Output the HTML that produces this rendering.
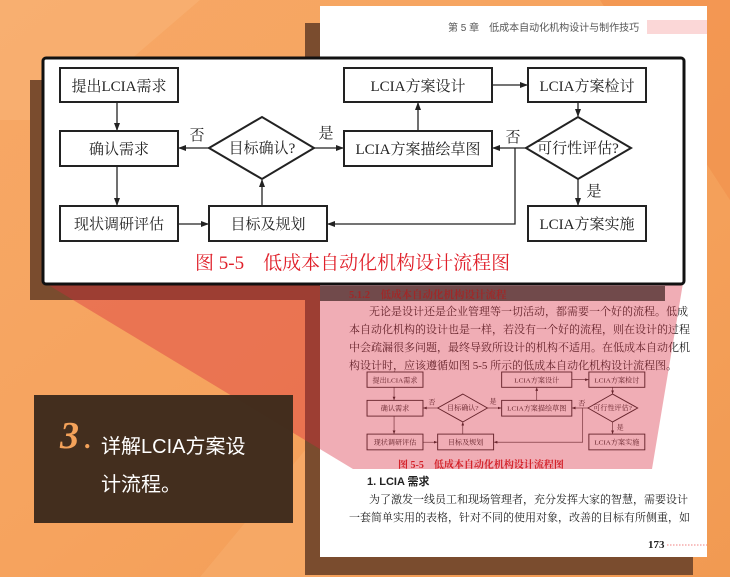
<!DOCTYPE html><html><head><meta charset="utf-8"><style>
html,body{margin:0;padding:0;width:730px;height:577px;overflow:hidden}
text{font-family:"Liberation Serif","Noto Serif CJK SC",serif}
text.s{font-family:"Liberation Sans","Noto Sans CJK SC",sans-serif}
</style></head><body>
<svg width="730" height="577" viewBox="0 0 730 577" xmlns="http://www.w3.org/2000/svg">
<defs>
<linearGradient id="bg" x1="0" y1="0" x2="1" y2="1">
<stop offset="0" stop-color="#f7a866"/><stop offset="0.5" stop-color="#f6a35e"/><stop offset="1" stop-color="#f19a52"/></linearGradient>
<marker id="a" markerWidth="8" markerHeight="6" refX="7" refY="3" orient="auto" markerUnits="userSpaceOnUse"><path d="M0,0 L8,3 L0,6 z" fill="#222"/></marker>
<g id="dg" font-size="15" fill="#222">
<g fill="none" stroke="#222" stroke-width="2">
<rect x="60" y="68" width="118" height="34"/>
<rect x="60" y="131" width="118" height="35"/>
<rect x="60" y="206" width="118" height="35"/>
<rect x="209" y="206" width="118" height="35"/>
<polygon points="209,148 262,117 314,148 262,179"/>
<rect x="344" y="68" width="148" height="34"/>
<rect x="344" y="131" width="148" height="35"/>
<rect x="528" y="68" width="118" height="34"/>
<polygon points="526,148 578,117 631,148 578,179"/>
<rect x="528" y="206" width="118" height="35"/>
</g>
<g stroke="#222" stroke-width="1.3" fill="none" marker-end="url(#a)">
<line x1="117" y1="102" x2="117" y2="130"/>
<line x1="117" y1="166" x2="117" y2="205"/>
<line x1="178" y1="224" x2="208" y2="224"/>
<line x1="262" y1="206" x2="262" y2="180"/>
<line x1="209" y1="148" x2="179" y2="148"/>
<line x1="314" y1="148" x2="343" y2="148"/>
<line x1="418" y1="131" x2="418" y2="103"/>
<line x1="492" y1="85" x2="527" y2="85"/>
<line x1="578" y1="102" x2="578" y2="116"/>
<line x1="526" y1="148" x2="493" y2="148"/>
<line x1="578" y1="179" x2="578" y2="205"/>
<polyline points="515,148 515,224 328,224"/>
</g>
<g text-anchor="middle">
<text x="119" y="91">提出LCIA需求</text>
<text x="119" y="154">确认需求</text>
<text x="119" y="229">现状调研评估</text>
<text x="268" y="229">目标及规划</text>
<text x="262" y="153">目标确认?</text>
<text x="418" y="91">LCIA方案设计</text>
<text x="418" y="154">LCIA方案描绘草图</text>
<text x="587" y="91">LCIA方案检讨</text>
<text x="578" y="153">可行性评估?</text>
<text x="587" y="229">LCIA方案实施</text>
<text x="197" y="140">否</text><text x="326" y="138">是</text>
<text x="513" y="142">否</text><text x="594" y="196">是</text>
</g>
</g>
</defs>
<rect width="730" height="577" fill="url(#bg)"/>
<polygon points="0,0 200,0 60,120 0,120" fill="#f9b57a" opacity="0.5"/>
<polygon points="600,0 730,0 730,200" fill="#f08c48" opacity="0.5"/>
<polygon points="200,577 330,420 330,577" fill="#f8b070" opacity="0.5"/>
<rect x="30" y="80" width="290" height="220" fill="#7a4c2e"/>
<rect x="305" y="23" width="388" height="552" fill="#7a4c2e"/>
<rect x="320" y="6" width="387" height="551" fill="#fff"/>
<text class="s" x="448" y="31" font-size="10" fill="#555">第 5 章　低成本自动化机构设计与制作技巧</text>
<rect x="647" y="20" width="60" height="14" fill="#fbd7d7"/>
<g font-size="11" fill="#222">
<text x="369" y="315">无论是设计还是企业管理等一切活动，都需要一个好的流程。低成</text>
<text x="349" y="333">本自动化机构的设计也是一样，若没有一个好的流程，则在设计的过程</text>
<text x="349" y="351">中会疏漏很多问题，最终导致所设计的机构不适用。在低成本自动化机</text>
<text x="349" y="369">构设计时，应该遵循如图 5-5 所示的低成本自动化机构设计流程图。</text>
</g>
<g transform="translate(338.6,341.4) scale(0.474,0.45)"><use href="#dg"/></g>
<text x="398" y="468" font-size="10" fill="#d02020" font-weight="bold">图 5-5　低成本自动化机构设计流程图</text>
<polygon points="45,283 683,283 652,469 353,469" fill="#d8283c" opacity="0.38"/>
<rect x="320" y="286" width="345" height="15" fill="#5a3838" opacity="0.85"/>
<text x="349" y="298" font-size="10.5" fill="#a02828" font-weight="bold">5.1.2　低成本自动化机构设计流程</text>
<text class="s" x="367" y="485" font-size="11" fill="#222" font-weight="bold">1. LCIA 需求</text>
<g font-size="11" fill="#222">
<text x="369" y="503">为了激发一线员工和现场管理者，充分发挥大家的智慧，需要设计</text>
<text x="349" y="521">一套简单实用的表格，针对不同的使用对象，改善的目标有所侧重，如</text>
</g>
<text x="648" y="548" font-size="11" fill="#222" font-weight="bold">173</text>
<line x1="667" y1="545" x2="707" y2="545" stroke="#f08080" stroke-dasharray="1.5,1.5"/>
<rect x="43" y="58" width="641" height="226" rx="3" fill="#fff" stroke="#111" stroke-width="3"/>
<use href="#dg"/>
<text x="195" y="269" font-size="19" fill="#e0202a">图 5-5　低成本自动化机构设计流程图</text>
<rect x="34" y="395" width="259" height="128" fill="#3d2a1c" opacity="0.97"/>
<text x="60" y="448" font-size="38" font-style="italic" font-weight="bold" fill="#f4a25a">3</text>
<text x="84" y="448" font-size="26" font-weight="bold" fill="#f4a25a">.</text>
<text class="s" x="101" y="453" font-size="20" fill="#fff">详解LCIA方案设</text>
<text class="s" x="101" y="491" font-size="20" fill="#fff">计流程。</text>
</svg>
</body></html>
